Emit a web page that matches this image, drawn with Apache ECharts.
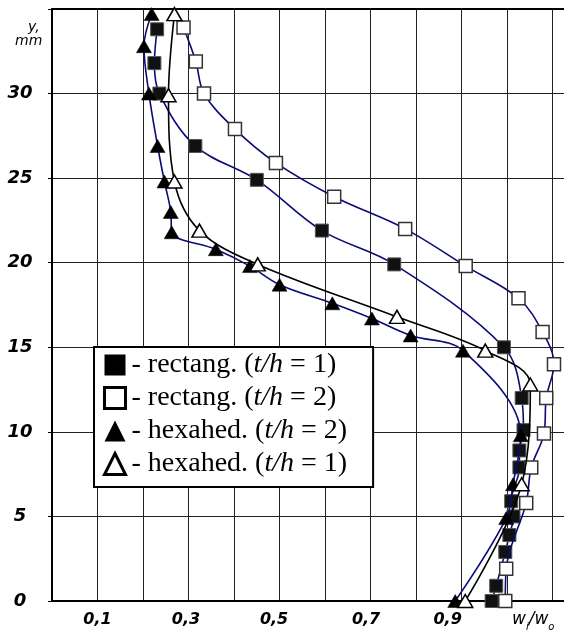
<!DOCTYPE html>
<html>
<head>
<meta charset="utf-8">
<script src="https://cdn.jsdelivr.net/npm/echarts@6/dist/echarts.min.js"></script>
<style>html,body{margin:0;padding:0;background:#fff}#c{width:564px;height:635px}</style>
</head>
<body>
<div id="c"></div>
<script>
// ---- data (x = w_i/w_o, y = mm) ----
const seriesNames = ['rectang. (t/h = 1)', 'rectang. (t/h = 2)', 'hexahed. (t/h = 2)', 'hexahed. (t/h = 1)'];

const rect1X = [0.231, 0.225, 0.236, 0.315, 0.450, 0.593, 0.752, 0.993, 1.032, 1.036, 1.027, 1.027, 1.009, 1.014, 1.005, 0.996, 0.976, 0.966];
const rect1Y = [33.8, 31.8, 30.0, 26.9, 24.9, 21.9, 19.9, 15.0, 12.0, 10.1, 8.9, 7.9, 5.9, 5.0, 3.9, 2.9, 0.9, 0.0];

const rect2X = [0.289, 0.316, 0.334, 0.402, 0.492, 0.620, 0.776, 0.909, 1.025, 1.078, 1.103, 1.086, 1.081, 1.053, 1.042, 0.998, 0.996];
const rect2Y = [33.9, 31.9, 30.0, 27.9, 25.9, 23.9, 22.0, 19.8, 17.9, 15.9, 14.0, 12.0, 9.9, 7.9, 5.8, 1.9, 0.0];

const hex2X = [0.219, 0.202, 0.213, 0.232, 0.247, 0.261, 0.263, 0.360, 0.435, 0.500, 0.616, 0.703, 0.788, 0.903, 1.030, 1.013, 0.998, 0.886];
const hex2Y = [34.7, 32.8, 30.0, 26.9, 24.8, 23.0, 21.8, 20.8, 19.8, 18.7, 17.6, 16.7, 15.7, 14.8, 9.8, 6.9, 4.9, 0.0];

const hex1X = [0.269, 0.256, 0.269, 0.324, 0.452, 0.758, 0.952, 1.051, 1.032, 0.908];
const hex1Y = [34.7, 29.9, 24.8, 21.9, 19.9, 16.8, 14.8, 12.8, 6.9, 0.0];

const xTickValues = [1, 3, 5, 7, 9];            // tenths
const xTickLabels = ['0,1', '0,3', '0,5', '0,7', '0,9'];
const yTickValues = [0, 5, 10, 15, 20, 25, 30];
const yTickLabels = ['0', '5', '10', '15', '20', '25', '30'];

// ---- build ----
const zip = (xs, ys) => xs.map((x, i) => [x, ys[i]]);
const NAVY = '#0b0b78';
const labelFont = { fontFamily: 'DejaVu Sans', fontWeight: 'bold', fontStyle: 'italic', color: '#000' };
const xPads = { 1: 0, 3: 5, 5: 11, 7: 9, 9: 28 };
const xRich = {};
xTickValues.forEach(k => { xRich['p' + k] = Object.assign({ fontSize: 16, padding: [0, xPads[k], 0, 0] }, labelFont); });

const chart = echarts.init(document.getElementById('c'), null, { renderer: 'canvas' });
const symStyles = [
  { symbol: 'rect', symbolSize: 13, itemStyle: { color: '#111', borderColor: '#555', borderWidth: 1 }, line: NAVY },
  { symbol: 'rect', symbolSize: 13, itemStyle: { color: '#fff', borderColor: '#333', borderWidth: 1.5 }, line: NAVY },
  { symbol: 'triangle', symbolSize: [15, 13], itemStyle: { color: '#000', borderColor: '#000', borderWidth: 0.5 }, line: NAVY },
  { symbol: 'triangle', symbolSize: [15, 13], itemStyle: { color: '#fff', borderColor: '#000', borderWidth: 1.5 }, line: '#000' }
];
const datas = [zip(rect1X, rect1Y), zip(rect2X, rect2Y), zip(hex2X, hex2Y), zip(hex1X, hex1Y)];

chart.setOption({
  animation: false,
  backgroundColor: '#fff',
  grid: { left: 52, right: 0, top: 9, bottom: 34 },
  xAxis: [{
    type: 'value', min: 0, max: 1.125, interval: 0.1,
    axisLine: { show: true, lineStyle: { color: '#000', width: 2 } },
    axisTick: { show: false },
    splitLine: { show: true, showMaxLine: false, lineStyle: { color: '#222', width: 1 } },
    axisLabel: {
      margin: 11, showMaxLabel: false,
      formatter: v => { const k = Math.round(v * 10); const i = xTickValues.indexOf(k); return i >= 0 ? '{p' + k + '|' + xTickLabels[i] + '}' : ''; },
      rich: xRich
    }
  }, {
    type: 'value', position: 'top', min: 0, max: 1.125,
    axisLine: { show: true, lineStyle: { color: '#000', width: 2 } },
    axisTick: { show: false }, axisLabel: { show: false }, splitLine: { show: false }
  }],
  yAxis: {
    type: 'value', min: 0, max: 35, interval: 5,
    axisLine: { show: true, lineStyle: { color: '#000', width: 2 } },
    axisTick: { show: true, length: 4, inside: false, lineStyle: { color: '#000' } },
    splitLine: { show: true, lineStyle: { color: '#222', width: 1 } },
    axisLabel: Object.assign({
      margin: 32, align: 'center', fontSize: 18,
      formatter: v => { const i = yTickValues.indexOf(Math.round(v)); return i >= 0 ? yTickLabels[i] : ''; }
    }, labelFont)
  },
  legend: {
    orient: 'vertical', left: 94, top: 347,
    backgroundColor: '#fff', borderColor: '#000', borderWidth: 2,
    padding: [4, 26, 9, 9], itemGap: 5, itemWidth: 21, itemHeight: 21,
    textStyle: { fontFamily: 'Liberation Serif', fontSize: 28, color: '#000', lineHeight: 28, padding: [0, 0, 0, 1],
      rich: { i: { fontFamily: 'Liberation Serif', fontSize: 28, fontStyle: 'italic', color: '#000' } } },
    formatter: n => '- ' + n.replace('t/h', '{i|t/h}'),
    data: [
      { name: seriesNames[0], icon: 'rect', itemStyle: { color: '#000', borderWidth: 0 } },
      { name: seriesNames[1], icon: 'rect', itemStyle: { color: '#fff', borderColor: '#000', borderWidth: 3 } },
      { name: seriesNames[2], icon: 'triangle', itemStyle: { color: '#000', borderWidth: 0 } },
      { name: seriesNames[3], icon: 'triangle', itemStyle: { color: '#fff', borderColor: '#000', borderWidth: 3 } }
    ]
  },
  graphic: [
    { type: 'text', left: 28, top: 20, style: { text: 'y,', font: 'italic 14px "DejaVu Sans"', fill: '#000' } },
    { type: 'text', left: 15, top: 34, style: { text: 'mm', font: 'italic 14px "DejaVu Sans"', fill: '#000' } },
    { type: 'text', left: 512, top: 611, style: {
      text: '{w|w}{s|i}{w|/w}{s|o}', fill: '#000',
      rich: {
        w: { fontFamily: 'DejaVu Sans', fontStyle: 'italic', fontSize: 17, fill: '#000', verticalAlign: 'bottom' },
        s: { fontFamily: 'DejaVu Sans', fontStyle: 'italic', fontSize: 10, fill: '#000', verticalAlign: 'bottom', padding: [0, 0, -4, 0] }
      } } }
  ],
  series: datas.map((d, i) => ({
    type: 'line', name: seriesNames[i], data: d,
    smooth: 0.35,
    symbol: symStyles[i].symbol, symbolSize: symStyles[i].symbolSize,
    itemStyle: symStyles[i].itemStyle,
    lineStyle: { color: symStyles[i].line, width: 1.6 },
    z: [2, 3, 4, 5][i]
  }))
});
</script>
</body>
</html>
